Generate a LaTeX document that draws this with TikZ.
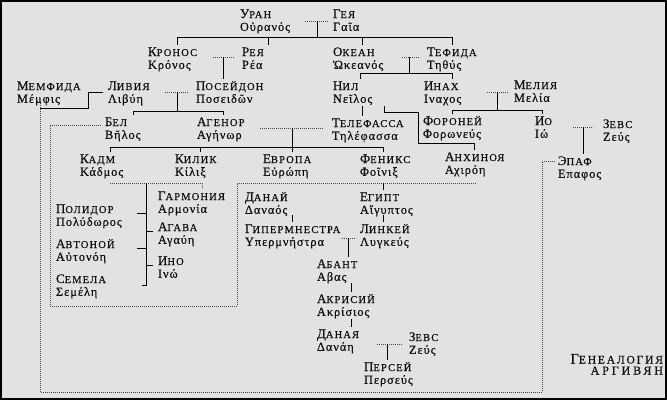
\documentclass[tikz,border=0pt]{standalone}
\usepackage{fontspec}
\setmainfont{Liberation Serif}
\newfontfamily\cyr[LetterSpace=11,FakeBold=0.35]{Liberation Serif}
\newfontfamily\ttlfont[LetterSpace=16,FakeBold=0.35]{Liberation Serif}
\newfontfamily\ttlfontb[LetterSpace=24,FakeBold=0.35]{Liberation Serif}
\newfontfamily\grk[LetterSpace=8,FakeBold=0.35]{Liberation Serif}
\definecolor{bg}{RGB}{226,226,226}
\definecolor{ink}{RGB}{15,15,15}
\definecolor{dotc}{RGB}{70,70,70}
\def\nmx#1#2\relax{{\fontsize{13}{13}\selectfont#1}{\fontsize{10.5}{13}\selectfont\MakeUppercase{#2}}}
\newcommand\nm[1]{{\cyr\nmx#1\relax}}
\newcommand\pp[2]{\vtop{\baselineskip=12.8pt\hbox{\rule{0pt}{11pt}\nm{#1}}\hbox{\grk\fontsize{12.3}{13}\selectfont #2}}}
\def\ttlx#1#2\relax{{\fontsize{14.5}{16}\selectfont#1}{\fontsize{11.5}{16}\selectfont\MakeUppercase{#2}}}
\begin{document}
\begin{tikzpicture}[x=1pt,y=-1pt,
  every node/.style={inner sep=0pt, outer sep=0pt, text=ink},
  person/.style={anchor=base west},
  kin/.style={line width=0.9pt, draw=black},
  wed/.style={line width=0.8pt, draw=dotc, dash pattern=on 0.8pt off 1.2pt}]
\fill[bg] (0,0) rectangle (667,400);
\useasboundingbox (0,0) rectangle (667,400);
\draw[black, line width=2pt] (1,1) rectangle (666,399);

% persons
\node[person] (uran) at (240,18) {\pp{Уран}{Οὐρανός}};
\node[person] (geya) at (333,18) {\pp{Гея}{Γαῖα}};
\node[person] (kronos) at (148,56) {\pp{Кронос}{Κρόνος}};
\node[person] (reya) at (242,56) {\pp{Рея}{Ρέα}};
\node[person] (okean) at (333,56) {\pp{Океан}{Ὠκεανός}};
\node[person] (tefida) at (427,56) {\pp{Тефида}{Τηθύς}};
\node[person] (memfida) at (17,90) {\pp{Мемфида}{Μέμφις}};
\node[person] (liviya) at (108,90) {\pp{Ливия}{Λιβύη}};
\node[person] (poseidon) at (196,90) {\pp{Посейдон}{Ποσειδῶν}};
\node[person] (nil) at (333,90) {\pp{Нил}{Νεῖλος}};
\node[person] (inah) at (424,90) {\pp{Инах}{Ιναχος}};
\node[person] (melia) at (514,89) {\pp{Мелия}{Μελία}};
\node[person] (bel) at (105,126) {\pp{Бел}{Βῆλος}};
\node[person] (agenor) at (197,126) {\pp{Агенор}{Αγήνωρ}};
\node[person] (telefassa) at (332,127) {\pp{Телефасса}{Τηλέφασσα}};
\node[person] (foronei) at (423,125) {\pp{Фороней}{Φορωνεύς}};
\node[person] (io) at (535,125) {\pp{Ио}{Ιώ}};
\node[person] (zevsA) at (603,128) {\pp{Зевс}{Ζεύς}};
\node[person] (kadm) at (80,163) {\pp{Кадм}{Κάδμος}};
\node[person] (kilik) at (175,163) {\pp{Килик}{Κίλιξ}};
\node[person] (evropa) at (263,163) {\pp{Европа}{Εὐρώπη}};
\node[person] (feniks) at (360,163) {\pp{Феникс}{Φοῖνιξ}};
\node[person] (anhinoya) at (445,161) {\pp{Анхиноя}{Αχιρόη}};
\node[person] (epaf) at (558,165) {\pp{Эпаф}{Επαφος}};
\node[person] (garmoniya) at (158,200) {\pp{Гармония}{Αρμονία}};
\node[person] (danai) at (245,201) {\pp{Данай}{Δαναός}};
\node[person] (egipt) at (360,201) {\pp{Египт}{Αἴγυπτος}};
\node[person] (polidor) at (56,213) {\pp{Полидор}{Πολύδωρος}};
\node[person] (agava) at (158,231) {\pp{Агава}{Αγαύη}};
\node[person] (gipermnestra) at (245,233) {\pp{Гипермнестра}{Υπερμνήστρα}};
\node[person] (linkei) at (360,233) {\pp{Линкей}{Λυγκεύς}};
\node[person] (avtonoi) at (56,248) {\pp{Автоной}{Αὐτονόη}};
\node[person] (ino) at (158,265) {\pp{Ино}{Ινώ}};
\node[person] (abant) at (317,268) {\pp{Абант}{Αβας}};
\node[person] (semela) at (56,283) {\pp{Семела}{Σεμέλη}};
\node[person] (akrisii) at (317,303) {\pp{Акрисий}{Ακρίσιος}};
\node[person] (danaya) at (317,338) {\pp{Даная}{Δανάη}};
\node[person] (zevsB) at (409,341) {\pp{Зевс}{Ζεύς}};
\node[person] (persei) at (364,371) {\pp{Персей}{Περσεύς}};
\node[anchor=north east, align=right] (title) at (663,354)
  {\ttlfont\ttlx Генеалогия\relax\\[-1pt]{\ttlfontb\fontsize{12}{16}\selectfont\MakeUppercase{аргивян}}};

% junction coordinates
\coordinate (ugL) at (305,21); \coordinate (ugR) at (328,21); \coordinate (ugM) at (317,21);
\coordinate (b1L) at (177,37); \coordinate (b1R) at (452,37);
\coordinate (b1r) at (268,37); \coordinate (b1o) at (362,37); \coordinate (ugB) at (317,37);
\coordinate (krL) at (213,57); \coordinate (krR) at (234,57); \coordinate (krM) at (223,57);
\coordinate (otL) at (402,57); \coordinate (otR) at (420,57); \coordinate (otM) at (409,57);
\coordinate (b2L) at (360,73); \coordinate (b2R) at (452,73);
\coordinate (imL) at (487,92); \coordinate (imR) at (508,92); \coordinate (imM) at (497,92);
\coordinate (b3L) at (452,110); \coordinate (b3R) at (542,110);
\coordinate (izL) at (573,127); \coordinate (izR) at (593,127); \coordinate (izM) at (583,127);
\coordinate (meA) at (40,99); \coordinate (meB) at (40,392); \coordinate (meC) at (542,392);
\coordinate (meD) at (542,161); \coordinate (meE) at (555,161);
\coordinate (mlA) at (40,108); \coordinate (mlB) at (88,108); \coordinate (mlC) at (88,92); \coordinate (mlD) at (103,92);
\coordinate (lpL) at (165,92); \coordinate (lpR) at (188,92); \coordinate (lpM) at (177,92);
\coordinate (b4L) at (133,111); \coordinate (b4R) at (223,111);
\coordinate (atL) at (260,128); \coordinate (atR) at (323,128); \coordinate (atM) at (292,128);
\coordinate (b5L) at (110,147); \coordinate (b5R) at (383,147); \coordinate (b5k) at (200,147);
\coordinate (ntA) at (362,106);
\coordinate (naA) at (384,106); \coordinate (naB) at (384,112); \coordinate (naC) at (418,112);
\coordinate (naD) at (418,143); \coordinate (naE) at (474,143);
\coordinate (baA) at (101,125); \coordinate (baB) at (50,125); \coordinate (baC) at (50,306);
\coordinate (baD) at (237,306); \coordinate (baE) at (237,183); \coordinate (baF) at (477,183);
\coordinate (egA) at (383,183);
\coordinate (kgA) at (110,183); \coordinate (kgB) at (202,183);
\coordinate (brT) at (146,183); \coordinate (brB) at (146,285);
\coordinate (brL) at (137,0); \coordinate (brR) at (153,0); \coordinate (brS) at (142,0);
\coordinate (dgA) at (292,215); \coordinate (elA) at (383,215);
\coordinate (glL) at (342,238); \coordinate (glR) at (356,238); \coordinate (glM) at (348,238);
\coordinate (aaA) at (351,283); \coordinate (adA) at (351,319);
\coordinate (dzL) at (377,344); \coordinate (dzR) at (402,344); \coordinate (dzM) at (387,344);

% Uran - Geya
\draw[wed] (ugL) -- (ugR);
\draw[kin] (ugM) -- (ugB);
\draw[kin] (b1L |- kronos.north) -- (b1L) -- (b1R) -- (b1R |- tefida.north);
\draw[kin] (b1r) -- (b1r |- reya.north);
\draw[kin] (b1o) -- (b1o |- okean.north);
% Kronos - Reya
\draw[wed] (krL) -- (krR);
\draw[kin] (krM) -- (krM |- poseidon.north);
% Okean - Tefida
\draw[wed] (otL) -- (otR);
\draw[kin] (otM) -- (otM |- b2L);
\draw[kin] (b2L |- nil.north) -- (b2L) -- (b2R) -- (b2R |- inah.north);
% Inah - Melia
\draw[wed] (imL) -- (imR);
\draw[kin] (imM) -- (imM |- b3L);
\draw[kin] (b3L |- foronei.north) -- (b3L) -- (b3R) -- (b3R |- io.north);
% Io - Zevs
\draw[wed] (izL) -- (izR);
\draw[kin] (izM) -- (izM |- epaf.north);
% Memfida - Epaf
\draw[wed] (meA) -- (meB) -- (meC) -- (meD) -- (meE);
\draw[kin] (mlA) -- (mlB) -- (mlC) -- (mlD);
% Liviya - Poseidon
\draw[wed] (lpL) -- (lpR);
\draw[kin] (lpM) -- (lpM |- b4L);
\draw[kin] (b4L |- bel.north) -- (b4L) -- (b4R) -- (b4R |- agenor.north);
% Agenor - Telefassa
\draw[wed] (atL) -- (atR);
\draw[kin] (atM) -- (atM |- evropa.north);
\draw[kin] (b5L |- kadm.north) -- (b5L) -- (b5R) -- (b5R |- feniks.north);
\draw[kin] (b5k) -- (b5k |- kilik.north);
% Nil children
\draw[kin] (ntA) -- (ntA |- telefassa.north);
\draw[kin] (naA) -- (naB) -- (naC) -- (naD) -- (naE) -- (naE |- anhinoya.north);
% Bel - Anhinoya
\draw[wed] (baA) -- (baB) -- (baC) -- (baD) -- (baE) -- (baF);
\draw[kin] (egA) -- (egA |- egipt.north);
% Kadm - Garmoniya
\draw[wed] (kgA) -- (kgB) -- (kgB |- garmoniya.north);
\draw[kin] (brT) -- (brB) -- (brS |- brB);
\draw[kin] (brT |- polidor.base) -- (brL |- polidor.base);
\draw[kin] (brT |- avtonoi.base) -- (brL |- avtonoi.base);
\draw[kin] (brT |- agava.base) -- (brR |- agava.base);
\draw[kin] (brT |- ino.base) -- (brR |- ino.base);
% Danai, Egipt lines
\draw[kin] (dgA) -- (dgA |- gipermnestra.north);
\draw[kin] (elA) -- (elA |- linkei.north);
\draw[wed] (glL) -- (glR);
\draw[kin] (glM) -- (glM |- abant.north);
\draw[kin] (aaA) -- (aaA |- akrisii.north);
\draw[kin] (adA) -- (adA |- danaya.north);
\draw[wed] (dzL) -- (dzR);
\draw[kin] (dzM) -- (dzM |- persei.north);
\end{tikzpicture}
\end{document}
